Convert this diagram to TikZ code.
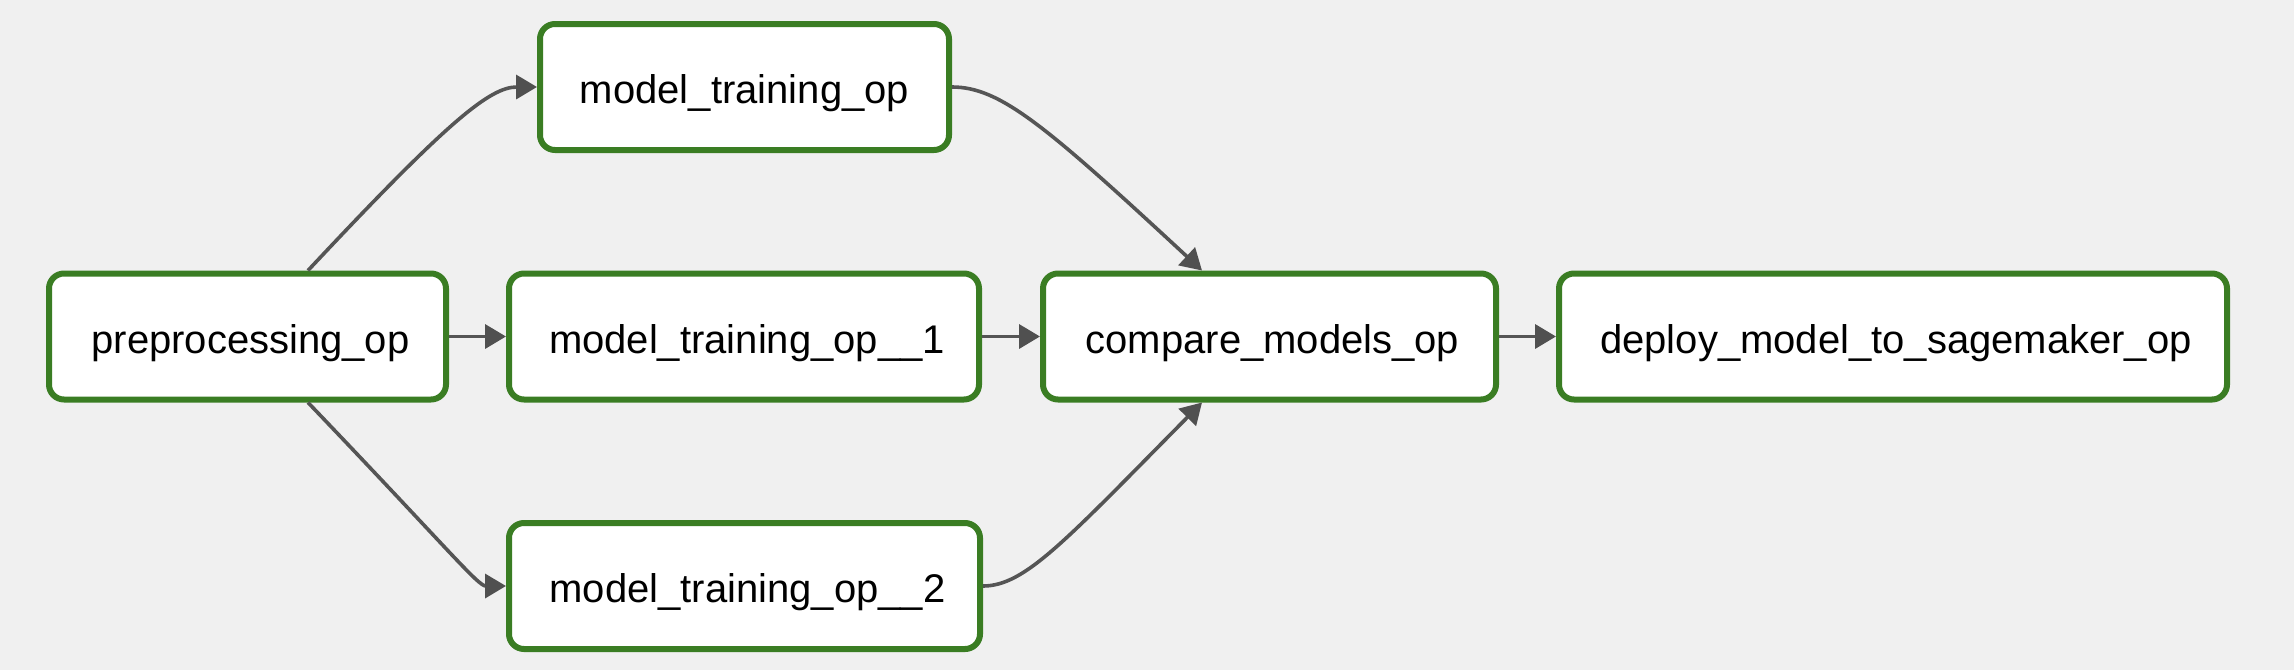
\documentclass[tikz,border=0pt]{standalone}
\usepackage{fontspec}
\setmainfont{Liberation Sans}
\usetikzlibrary{arrows.meta,calc}
\definecolor{bgc}{HTML}{F0F0F0}
\definecolor{boxgreen}{HTML}{3A7D23}
\definecolor{edgec}{HTML}{555555}
\definecolor{tipc}{HTML}{505050}
\begin{document}
\begin{tikzpicture}[x=1pt,y=-1pt,
  opbox/.style={draw=boxgreen,fill=white,line width=6pt,rounded corners=15pt,
    minimum height=126pt,inner sep=0pt,
    font=\fontsize{40}{48}\selectfont,text height=33pt,text depth=0pt},
  conn/.style={draw=edgec,line width=3.6pt,
    -{Triangle[length=21pt,width=24pt,fill=tipc,color=tipc]}}]
\useasboundingbox (0,0) rectangle (2294,670);
\fill[bgc] (0,0) rectangle (2294,670);

\node[opbox,minimum width=397pt] (pre) at (247.5,336.5) {\hspace*{6pt}preprocessing\_op};
\node[opbox,minimum width=409pt] (mt0) at (744.5,87) {model\_training\_op};
\node[opbox,minimum width=470pt] (mt1) at (744,336.5) {\hspace*{6pt}model\_training\_op\_\_1};
\node[opbox,minimum width=471pt] (mt2) at (744.5,586) {\hspace*{6pt}model\_training\_op\_\_2};
\node[opbox,minimum width=453pt] (cmp) at (1269.5,336.5) {\hspace*{6pt}compare\_models\_op};
\node[opbox,minimum width=668pt] (dep) at (1893,336.5) {\hspace*{6pt}deploy\_model\_to\_sagemaker\_op};

\coordinate (preN) at ($(pre.north)+(60.5,0)$);
\coordinate (preS) at ($(pre.south)+(60.5,0)$);
\coordinate (cmpN) at ($(cmp.north)+(-67.5,0)$);
\coordinate (cmpS) at ($(cmp.south)+(-67.5,0)$);

\path[conn] (preN) .. controls (448,121) and (490,87) .. (mt0.west);
\path[conn] (preS) .. controls (450,551) and (478,586) .. (mt2.west);
\path[conn] (pre.east) -- (mt1.west);
\path[conn] (mt0.east) .. controls (1000,87) and (1045,125) .. (cmpN);
\path[conn] (mt2.east) .. controls (1025,586) and (1065,541) .. (cmpS);
\path[conn] (mt1.east) -- (cmp.west);
\path[conn] (cmp.east) -- (dep.west);
\end{tikzpicture}
\end{document}
